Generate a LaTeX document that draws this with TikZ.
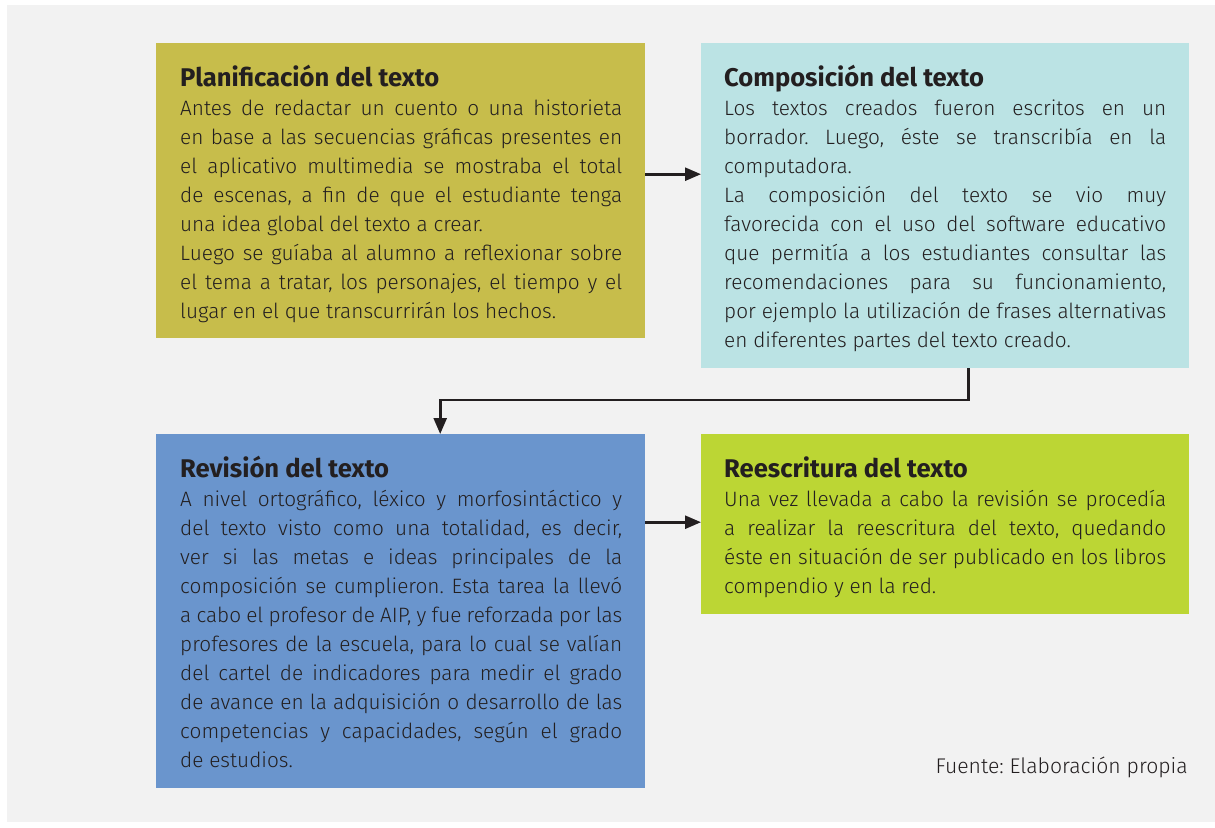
\documentclass[tikz,border=0pt]{standalone}
\usepackage{fontspec}
\setmainfont{Fira Sans}[UprightFont={* Light}, BoldFont={* Bold}]
\usetikzlibrary{arrows.meta}
\definecolor{panel}{HTML}{F2F2F2}
\definecolor{cplan}{RGB}{199,189,75}
\definecolor{ccomp}{RGB}{187,227,228}
\definecolor{crev}{RGB}{106,149,205}
\definecolor{cree}{RGB}{188,214,52}
\definecolor{ink}{HTML}{231F20}
\newlength\tw \setlength\tw{442pt}
\newcommand\titlefont{\fontsize{25.6}{29}\selectfont\bfseries}
\newcommand\Jl[1]{\hbox to \tw{#1}}
\newcommand\Ll[1]{\hbox{#1}}
\newcommand\Tl[1]{\hbox{\rule{0pt}{26pt}\titlefont #1}}
\newcommand\Body[1]{\vbox{\hsize=\tw \fontsize{20.8}{29}\selectfont \frenchspacing \baselineskip=29pt \lineskiplimit=-50pt \lineskip=0pt #1}}
\tikzset{
  box/.style={rectangle, inner sep=0pt, draw=none, anchor=north west},
  txt/.style={inner sep=0pt, anchor=north west, text=ink},
  arr/.style={draw=ink, line width=2.6pt, -{Triangle[length=16pt,width=13pt]}},
}
\begin{document}
\begin{tikzpicture}[x=1pt,y=-1pt]
\useasboundingbox (0,0) rectangle (1215,827);
\fill[white] (0,0) rectangle (1215,827);
\fill[panel] (7,5) rectangle (1215,822);

\node[box, fill=cplan, minimum width=489pt, minimum height=295pt] (plan) at (156,43) {};
\node[box, fill=ccomp, minimum width=488pt, minimum height=325pt] (comp) at (701,43) {};
\node[box, fill=crev, minimum width=489pt, minimum height=354pt] (rev) at (156,434) {};
\node[box, fill=cree, minimum width=488pt, minimum height=180pt] (ree) at (701,434) {};

\node[txt] (plant) at ([xshift=24pt,yshift=-17pt]plan.north west) {\Body{%
\Tl{Planificación del texto}
\Jl{Antes de redactar un cuento o una historieta}
\Jl{en base a las secuencias gráficas presentes en}
\Jl{el aplicativo multimedia se mostraba el total}
\Jl{de escenas, a fin de que el estudiante tenga}
\Ll{una idea global del texto a crear.}
\Jl{Luego se guíaba al alumno a reflexionar sobre}
\Jl{el tema a tratar, los personajes, el tiempo y el}
\Ll{lugar en el que transcurrirán los hechos.}}};

\node[txt] (compt) at ([xshift=23pt,yshift=-17pt]comp.north west) {\Body{%
\Tl{Composición del texto}
\Jl{Los textos creados fueron escritos en un}
\Jl{borrador. Luego, éste se transcribía en la}
\Ll{computadora.}
\Jl{La composición del texto se vio muy}
\Jl{favorecida con el uso del software educativo}
\Jl{que permitía a los estudiantes consultar las}
\Jl{recomendaciones para su funcionamiento,}
\Jl{por ejemplo la utilización de frases alternativas}
\Ll{en diferentes partes del texto creado.}}};

\node[txt] (revt) at ([xshift=24pt,yshift=-17pt]rev.north west) {\Body{%
\Tl{Revisión del texto}
\Jl{A nivel ortográfico, léxico y morfosintáctico y}
\Jl{del texto visto como una totalidad, es decir,}
\Jl{ver si las metas e ideas principales de la}
\Jl{composición se cumplieron. Esta tarea la llevó}
\Jl{a cabo el profesor de AIP, y fue reforzada por las}
\Jl{profesores de la escuela, para lo cual se valían}
\Jl{del cartel de indicadores para medir el grado}
\Jl{de avance en la adquisición o desarrollo de las}
\Jl{competencias y capacidades, según el grado}
\Ll{de estudios.}}};

\node[txt] (reet) at ([xshift=23pt,yshift=-17pt]ree.north west) {\Body{%
\Tl{Reescritura del texto}
\Jl{Una vez llevada a cabo la revisión se procedía}
\Jl{a realizar la reescritura del texto, quedando}
\Jl{éste en situación de ser publicado en los libros}
\Ll{compendio y en la red.}}};

\node[anchor=base east, inner sep=0pt, text=ink, font=\fontsize{21.2}{24}\selectfont\frenchspacing] (src) at (1188,773) {Fuente: Elaboración propia};

\draw[arr] ([yshift=16.5pt]plan.east) -- ([yshift=16.5pt]plan.east -| comp.west);
\draw[arr] ([yshift=89pt]rev.east) -- ([yshift=89pt]rev.east -| ree.west);
\draw[arr] ([xshift=23pt]comp.south) |- ([xshift=39.5pt,yshift=34pt]rev.north) -- ([xshift=39.5pt]rev.north);
\end{tikzpicture}
\end{document}
